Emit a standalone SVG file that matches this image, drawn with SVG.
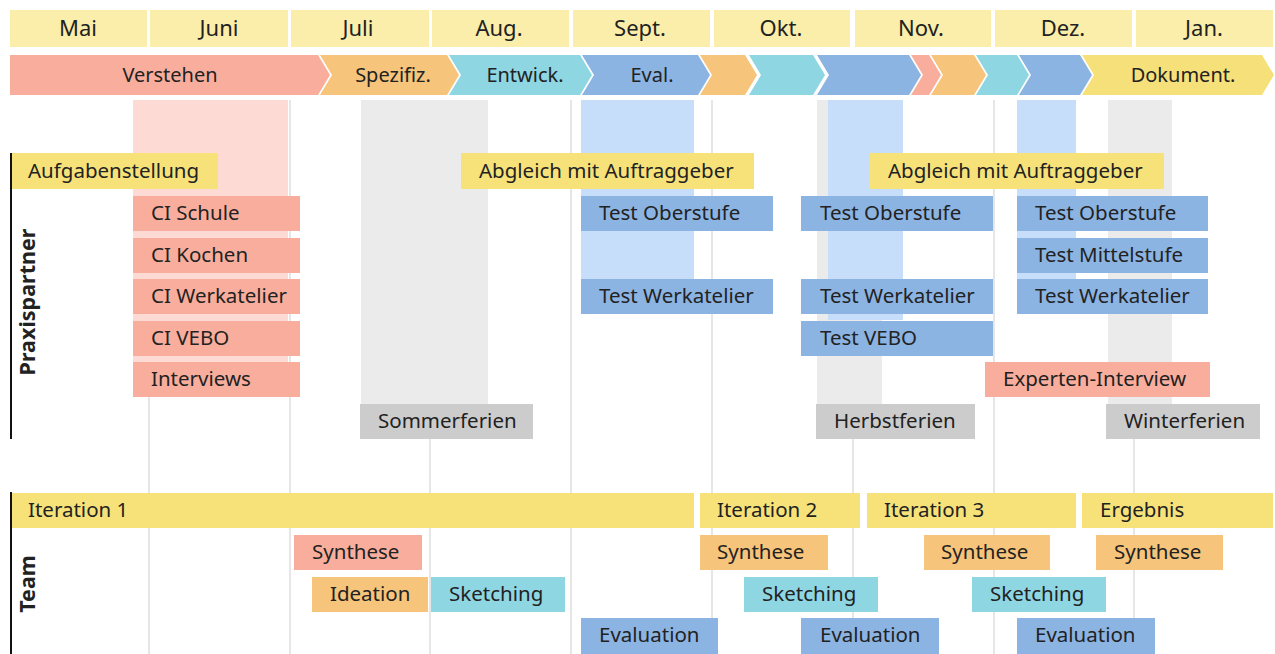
<svg xmlns="http://www.w3.org/2000/svg" width="1275" height="654" viewBox="0 0 1275 654">
  <style>
    text { font-family: "Noto Sans", "Liberation Sans", sans-serif; fill: #222; }
    .m { font-size: 22px; text-anchor: middle; }
    .c { font-size: 20px; text-anchor: middle; }
    .t { font-size: 20.5px; }
    .lbl { font-size: 21.5px; font-weight: bold; text-anchor: middle; }
    .grid { stroke: #E6E6E6; stroke-width: 2; }
    .axis { stroke: #111; stroke-width: 2; }
    .salmon { fill: #F9AE9D; }
    .orange { fill: #F6C47A; }
    .cyan { fill: #8ED6E2; }
    .blue { fill: #8CB4E3; }
    .yellow { fill: #F7E27A; }
    .gray { fill: #CCCCCC; }
    .month { fill: #FAEEAA; }
  </style>

  <rect width="1275" height="654" fill="#fff"/>

  <!-- month grid lines -->
  <g id="grid">
    <line class="grid" x1="149" y1="100" x2="149" y2="654"/>
    <line class="grid" x1="290" y1="100" x2="290" y2="654"/>
    <line class="grid" x1="430" y1="100" x2="430" y2="654"/>
    <line class="grid" x1="571" y1="100" x2="571" y2="654"/>
    <line class="grid" x1="712" y1="100" x2="712" y2="654"/>
    <line class="grid" x1="853" y1="100" x2="853" y2="654"/>
    <line class="grid" x1="994" y1="100" x2="994" y2="654"/>
    <line class="grid" x1="1134" y1="100" x2="1134" y2="654"/>
  </g>

  <!-- background bands -->
  <g id="bands">
    <rect x="133" y="100" width="155" height="297" fill="#FDDAD4"/>
    <rect x="361" y="100" width="127" height="304" fill="#EBEBEB"/>
    <rect x="581" y="100" width="113" height="196" fill="#C6DEF9"/>
    <rect x="817" y="100" width="65" height="304" fill="#EBEBEB"/>
    <rect x="828" y="100" width="75" height="220" fill="#C6DEF9"/>
    <rect x="1017" y="100" width="59" height="180" fill="#C6DEF9"/>
    <rect x="1108" y="100" width="64" height="304" fill="#EBEBEB"/>
  </g>

  <!-- months -->
  <g id="months">
    <rect class="month" x="10" y="10" width="137" height="37"/><text class="m" x="78" y="36">Mai</text>
    <rect class="month" x="150" y="10" width="138" height="37"/><text class="m" x="219" y="36">Juni</text>
    <rect class="month" x="291" y="10" width="138" height="37"/><text class="m" x="358" y="36">Juli</text>
    <rect class="month" x="432" y="10" width="137" height="37"/><text class="m" x="499" y="36">Aug.</text>
    <rect class="month" x="573" y="10" width="137" height="37"/><text class="m" x="640" y="36">Sept.</text>
    <rect class="month" x="714" y="10" width="136" height="37"/><text class="m" x="781" y="36">Okt.</text>
    <rect class="month" x="855" y="10" width="136" height="37"/><text class="m" x="921" y="36">Nov.</text>
    <rect class="month" x="995" y="10" width="137" height="37"/><text class="m" x="1063" y="36">Dez.</text>
    <rect class="month" x="1136" y="10" width="137" height="37"/><text class="m" x="1204" y="36">Jan.</text>
  </g>

  <!-- phase chevrons -->
  <g id="phases">
    <path class="salmon" d="M10,55 L318,55 L330,75 L318,95 L10,95 Z"/>
    <text class="c" x="170" y="82">Verstehen</text>
    <path class="orange" d="M320,55 L447,55 L459,75 L447,95 L320,95 L332,75 Z"/>
    <text class="c" x="393" y="82">Spezifiz.</text>
    <path class="cyan" d="M449,55 L580,55 L592,75 L580,95 L449,95 L461,75 Z"/>
    <text class="c" x="525" y="82">Entwick.</text>
    <path class="blue" d="M582,55 L698,55 L710,75 L698,95 L582,95 L594,75 Z"/>
    <text class="c" x="652" y="82">Eval.</text>
    <path class="orange" d="M700,55 L745,55 L757,75 L745,95 L700,95 L712,75 Z"/>
    <path class="cyan" d="M749,55 L813,55 L825,75 L813,95 L749,95 L761,75 Z"/>
    <path class="blue" d="M817,55 L909,55 L921,75 L909,95 L817,95 L829,75 Z"/>
    <path class="salmon" d="M911,55 L929,55 L941,75 L929,95 L911,95 L923,75 Z"/>
    <path class="orange" d="M931,55 L974,55 L986,75 L974,95 L931,95 L943,75 Z"/>
    <path class="cyan" d="M976,55 L1017,55 L1029,75 L1017,95 L976,95 L988,75 Z"/>
    <path class="blue" d="M1019,55 L1080,55 L1092,75 L1080,95 L1019,95 L1031,75 Z"/>
    <path fill="#F6E07A" d="M1082,55 L1262,55 L1274,75 L1262,95 L1082,95 L1094,75 Z"/>
    <text class="c" x="1183" y="82">Dokument.</text>
  </g>

  <!-- lane axes and labels -->
  <g id="lanes">
    <line class="axis" x1="11" y1="153" x2="11" y2="439"/>
    <text class="lbl" transform="translate(35,302) rotate(-90)">Praxispartner</text>
    <line class="axis" x1="11" y1="492" x2="11" y2="654"/>
    <text class="lbl" transform="translate(35,584) rotate(-90)">Team</text>
  </g>

  <!-- Praxispartner tasks -->
  <g id="aufgabenstellung"><rect class="yellow" x="12" y="153" width="206" height="36"/><text class="t" x="28" y="178">Aufgabenstellung</text></g>
  <g id="abgleich-1"><rect class="yellow" x="461" y="153" width="293" height="36"/><text class="t" x="479" y="178">Abgleich mit Auftraggeber</text></g>
  <g id="abgleich-2"><rect class="yellow" x="869" y="153" width="295" height="36"/><text class="t" x="888" y="178">Abgleich mit Auftraggeber</text></g>

  <g id="ci-schule"><rect class="salmon" x="133" y="196" width="167" height="35"/><text class="t" x="151" y="220">CI Schule</text></g>
  <g id="ci-kochen"><rect class="salmon" x="133" y="238" width="167" height="35"/><text class="t" x="151" y="262">CI Kochen</text></g>
  <g id="ci-werkatelier"><rect class="salmon" x="133" y="279" width="167" height="35"/><text class="t" x="151" y="303">CI Werkatelier</text></g>
  <g id="ci-vebo"><rect class="salmon" x="133" y="321" width="167" height="35"/><text class="t" x="151" y="345">CI VEBO</text></g>
  <g id="interviews"><rect class="salmon" x="133" y="362" width="167" height="35"/><text class="t" x="151" y="386">Interviews</text></g>

  <g id="sep-oberstufe"><rect class="blue" x="581" y="196" width="192" height="35"/><text class="t" x="599" y="220">Test Oberstufe</text></g>
  <g id="sep-werkatelier"><rect class="blue" x="581" y="279" width="192" height="35"/><text class="t" x="599" y="303">Test Werkatelier</text></g>

  <g id="okt-oberstufe"><rect class="blue" x="801" y="196" width="192" height="35"/><text class="t" x="820" y="220">Test Oberstufe</text></g>
  <g id="okt-werkatelier"><rect class="blue" x="801" y="279" width="192" height="35"/><text class="t" x="820" y="303">Test Werkatelier</text></g>
  <g id="okt-vebo"><rect class="blue" x="801" y="321" width="192" height="35"/><text class="t" x="820" y="345">Test VEBO</text></g>

  <g id="dez-oberstufe"><rect class="blue" x="1017" y="196" width="191" height="35"/><text class="t" x="1035" y="220">Test Oberstufe</text></g>
  <g id="dez-mittelstufe"><rect class="blue" x="1017" y="238" width="191" height="35"/><text class="t" x="1035" y="262">Test Mittelstufe</text></g>
  <g id="dez-werkatelier"><rect class="blue" x="1017" y="279" width="191" height="35"/><text class="t" x="1035" y="303">Test Werkatelier</text></g>

  <g id="experten-interview"><rect class="salmon" x="985" y="362" width="225" height="35"/><text class="t" x="1003" y="386">Experten-Interview</text></g>

  <g id="sommerferien"><rect class="gray" x="360" y="404" width="173" height="35"/><text class="t" x="378" y="428">Sommerferien</text></g>
  <g id="herbstferien"><rect class="gray" x="816" y="404" width="159" height="35"/><text class="t" x="834" y="428">Herbstferien</text></g>
  <g id="winterferien"><rect class="gray" x="1106" y="404" width="154" height="35"/><text class="t" x="1124" y="428">Winterferien</text></g>

  <!-- Team tasks -->
  <g id="iteration-1"><rect class="yellow" x="12" y="493" width="682" height="35"/><text class="t" x="28" y="517">Iteration 1</text></g>
  <g id="iteration-2"><rect class="yellow" x="700" y="493" width="160" height="35"/><text class="t" x="717" y="517">Iteration 2</text></g>
  <g id="iteration-3"><rect class="yellow" x="867" y="493" width="209" height="35"/><text class="t" x="884" y="517">Iteration 3</text></g>
  <g id="ergebnis"><rect class="yellow" x="1082" y="493" width="191" height="35"/><text class="t" x="1100" y="517">Ergebnis</text></g>

  <g id="synthese-1"><rect class="salmon" x="294" y="535" width="128" height="35"/><text class="t" x="312" y="559">Synthese</text></g>
  <g id="ideation-1"><rect class="orange" x="312" y="577" width="116" height="35"/><text class="t" x="330" y="601">Ideation</text></g>
  <g id="sketching-1"><rect class="cyan" x="431" y="577" width="134" height="35"/><text class="t" x="449" y="601">Sketching</text></g>
  <g id="evaluation-1"><rect class="blue" x="581" y="618" width="137" height="36"/><text class="t" x="599" y="642">Evaluation</text></g>

  <g id="synthese-2"><rect class="orange" x="700" y="535" width="128" height="35"/><text class="t" x="717" y="559">Synthese</text></g>
  <g id="sketching-2"><rect class="cyan" x="744" y="577" width="134" height="35"/><text class="t" x="762" y="601">Sketching</text></g>
  <g id="evaluation-2"><rect class="blue" x="801" y="618" width="138" height="36"/><text class="t" x="820" y="642">Evaluation</text></g>

  <g id="synthese-3"><rect class="orange" x="924" y="535" width="126" height="35"/><text class="t" x="941" y="559">Synthese</text></g>
  <g id="sketching-3"><rect class="cyan" x="972" y="577" width="134" height="35"/><text class="t" x="990" y="601">Sketching</text></g>
  <g id="evaluation-3"><rect class="blue" x="1017" y="618" width="138" height="36"/><text class="t" x="1035" y="642">Evaluation</text></g>

  <g id="synthese-4"><rect class="orange" x="1096" y="535" width="127" height="35"/><text class="t" x="1114" y="559">Synthese</text></g>
</svg>
